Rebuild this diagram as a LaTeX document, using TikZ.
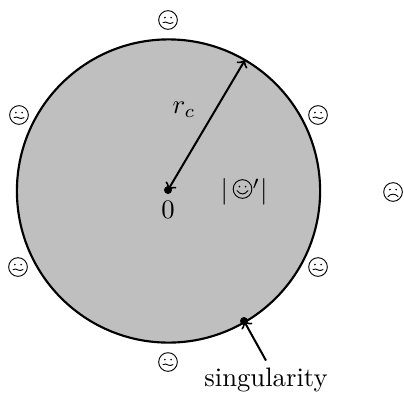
\documentclass[tikz,border=0pt]{standalone}
\usetikzlibrary{arrows}
\tikzset{
  px/.style={x=0.375pt,y=-0.375pt},
  rim/.style={line width=0.8pt},
  radiusline/.style={line width=0.75pt,to-to},
  pointer/.style={line width=0.75pt,to-},
  dotnode/.style={circle,fill=black,inner sep=0pt,minimum size=3pt},
  facering/.style={circle,draw,line width=0.35pt,inner sep=0pt,minimum size=7pt},
  facestroke/.style={line width=0.35pt,line cap=round},
  eyes/.pic={\fill (-3.1,-2.4) circle (0.95) (3.1,-2.4) circle (0.95);},
  wavy/.pic={\pic{eyes};
    \draw[facestroke] (-5,2.6) .. controls (-3,1.6) and (-1.5,2) .. (0,3)
      .. controls (1.5,3.8) and (3,3.6) .. (5,2.6);},
  frown/.pic={\pic{eyes};
    \draw[facestroke] (-5,4.6) .. controls (-2.5,1.4) and (2.5,1.4) .. (5,4.6);},
  smiling/.pic={\pic{eyes};
    \draw[facestroke] (-5.5,1.6) .. controls (-2.5,6) and (2.5,6) .. (5.5,1.6);},
}
\begin{document}
\begin{tikzpicture}[px]
\useasboundingbox (0,0) rectangle (404,392);
\node[circle,draw,rim,fill=black!25,inner sep=0pt,minimum size=113.7pt] (disc) at (168.5,191) {};
\node[dotnode] (origin) at (168,190) {};
\node[dotnode] (sing) at (244,321) {};
\coordinate (rimpt) at (245,60);
\draw[radiusline] (origin.center) -- (rimpt);
\node (rlabel) at (184,110) {$r_c$};
\node (zero) at (168,209.5) {$0$};
\node[inner sep=2.6pt] (sinlabel) at (266,380) {singularity};
\draw[pointer] (sing.center) -- (sinlabel.north);
\node (absval) at (244,192) {$|\hspace{9.2pt}{}'|$};
\foreach \n/\x/\y in {t/168/20,lu/19/115,ru/318/115,ll/18/267,rl/318/267,b/168/362}{
  \node[facering] (f\n) at (\x,\y) {};
  \pic at (f\n) {wavy};
}
\node[facering] (fout) at (393,192) {};
\pic at (fout) {frown};
\node[facering] (fin) at (242.5,189) {};
\pic at (fin) {smiling};
\end{tikzpicture}
\end{document}
